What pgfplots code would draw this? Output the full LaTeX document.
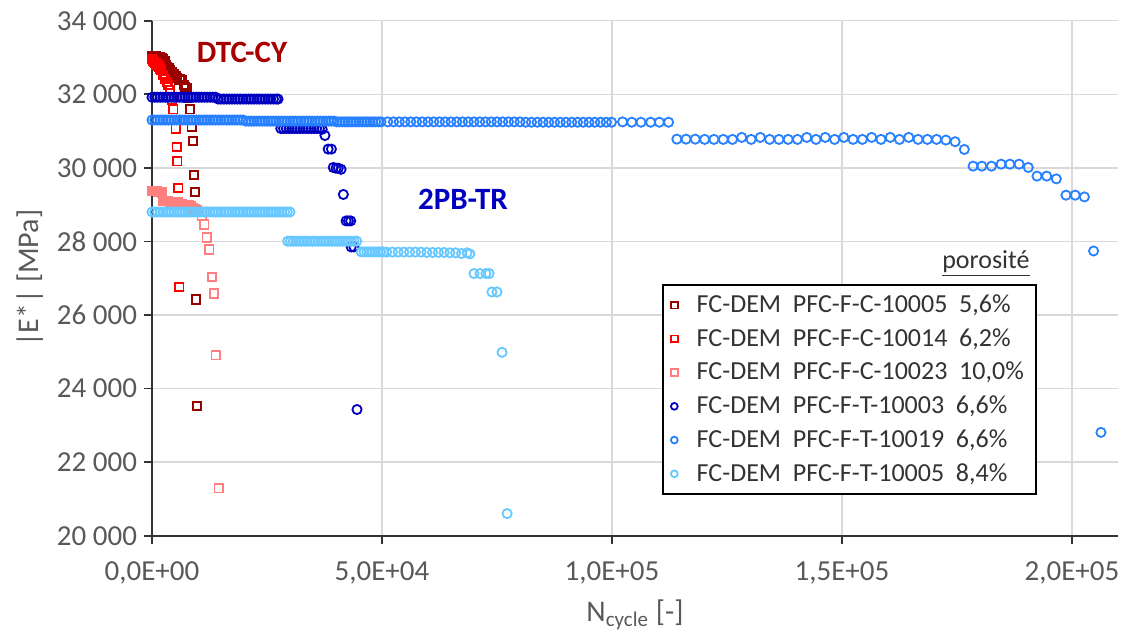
\documentclass[border=0pt]{standalone}
\usepackage{fontspec}
\setmainfont{Carlito}
\usepackage{pgfplots}
\pgfplotsset{compat=1.18}

\definecolor{cDR}{HTML}{990000}
\definecolor{cR}{HTML}{FF0000}
\definecolor{cPK}{HTML}{FF7F7F}
\definecolor{cDB}{HTML}{0000C0}
\definecolor{cB}{HTML}{2680FF}
\definecolor{cLB}{HTML}{66C8FF}
\definecolor{cTxt}{HTML}{595959}

\begin{document}
\begin{tikzpicture}
\begin{axis}[
  scale only axis, width=483pt, height=257.5pt,
  xmin=0, xmax=210000, ymin=20000, ymax=34000,
  clip=false,
  axis x line*=bottom, axis y line*=left,
  axis line style={-, line width=0.9pt, color=black!80},
  xtick={0,50000,100000,150000,200000},
  xticklabels={{0,0E+00},{5,0E+04},{1,0E+05},{1,5E+05},{2,0E+05}},
  ytick={20000,22000,24000,26000,28000,30000,32000,34000},
  yticklabels={20 000,22 000,24 000,26 000,28 000,30 000,32 000,34 000},
  scaled ticks=false,
  tick align=outside, major tick length=4pt,
  tick style={line width=0.9pt, color=black!80},
  grid=major, grid style={color=black!15, line width=0.7pt},
  tick label style={font=\fontsize{14.5}{16}\selectfont, color=cTxt},
  xticklabel style={yshift=-5.5pt},
  xlabel={N\textsubscript{cycle} [-]},
  ylabel={|E*| [MPa]},
  label style={font=\fontsize{15}{17}\selectfont, color=cTxt},
  xlabel style={yshift=-1pt},
  legend style={at={(rel axis cs:0.528,0.489)}, anchor=north west,
    draw=black, line width=0.9pt, font=\fontsize{13}{15}\selectfont,
    text=black!80, inner xsep=4pt, inner ysep=3pt, row sep=2.5pt,
    cells={anchor=west},
    /tikz/every odd column/.append style={column sep=7.5pt}},
  legend image post style={mark size=1.7pt, xshift=3pt},
  every axis plot/.append style={only marks, line width=0.9pt},
]

% ---------------- PFC-F-C-10005 ----------------
\addplot[mark=square, mark size=2.1pt, color=cDR] coordinates {
(0,33050)(300,33050)(600,33040)(900,33030)(1200,33020)(1500,33000)(1800,33000)
(2100,32980)(2400,32950)(2700,32900)(3000,32800)(3300,32750)(3600,32700)
(3900,32650)(4300,32610)(4700,32550)(5100,32500)(5500,32450)(6000,32400)
(6450,32380)(6900,32250)(7200,32200)(7540,32160)(7900,31900)(8260,31590)
(8630,31120)(8900,30735)(9130,29810)(9350,29340)(9570,26420)(9780,23525)};
\addlegendentry{FC-DEM\ \ PFC-F-C-10005\ \ 5,6\%}

% ---------------- PFC-F-C-10014 ----------------
\addplot[mark=square, mark size=2.1pt, color=cR] coordinates {
(0,32950)(250,32900)(500,32880)(750,32850)(1000,32800)(1250,32780)(1500,32750)
(1750,32700)(2000,32650)(2400,32520)(2800,32420)(3200,32330)(3550,32250)
(3900,32100)(4300,31850)(4630,31590)(4900,31300)(5150,31070)(5360,30570)
(5500,30180)(5720,29456)(5940,26760)};
\addlegendentry{FC-DEM\ \ PFC-F-C-10014\ \ 6,2\%}

% ---------------- PFC-F-C-10023 ----------------
\addplot[mark=square, mark size=2.1pt, color=cPK] coordinates {
(0,29370)(275,29370)(550,29370)(825,29360)(1100,29360)(1375,29350)(1650,29350)
(1925,29340)(2200,29330)(2500,29100)(2850,29100)(3200,29090)(3550,29090)
(3900,29080)(4250,29080)(4600,29080)(4950,29070)(5300,29070)(5600,29060)
(6000,29010)(6400,29010)(6800,29000)(7200,29000)(7600,28990)(8000,28980)
(8400,28960)(8800,28900)(9300,28880)(9800,28850)(10300,28800)(10800,28700)
(11350,28460)(11900,28106)(12460,27780)(13040,27034)(13480,26582)
(13850,24904)(14500,21290)};
\addlegendentry{FC-DEM\ \ PFC-F-C-10023\ \ 10,0\%}

% ---------------- PFC-F-T-10003 ----------------
\addplot[mark=o, mark size=2.3pt, color=cDB] coordinates {
(0,31920)(600,31920)(1200,31920)(1800,31920)(2400,31920)(3000,31920)(3600,31920)
(4200,31920)(4800,31920)(5400,31920)(6000,31920)(6600,31920)(7200,31920)
(7800,31920)(8400,31920)(9000,31920)(9600,31920)(10200,31920)(10800,31920)
(11400,31920)(12000,31920)(12600,31920)(13200,31920)(13800,31920)(14400,31870)
(15000,31870)(15600,31870)(16200,31870)(16800,31870)(17400,31870)(18000,31870)
(18600,31870)(19200,31870)(19800,31870)(20400,31870)(21000,31870)(21600,31870)
(22200,31870)(22800,31870)(23400,31870)(24000,31870)(24600,31870)(25200,31870)
(25800,31870)(26400,31870)(27000,31870)(27400,31870)
(28000,31070)(28600,31070)(29200,31070)(29800,31070)(30400,31070)(31000,31070)
(31600,31070)(32200,31070)(32800,31070)(33400,31070)(34000,31070)(34600,31070)
(35200,31070)(35800,31070)(36400,31070)(37000,31050)(37600,30880)
(38300,30510)(39000,30510)(39400,30010)(40000,29990)(40500,29990)(41100,29960)
(41600,29276)(42200,28558)(42700,28558)(43200,28558)(43300,27850)(43900,27850)
(44570,23430)};
\addlegendentry{FC-DEM\ \ PFC-F-T-10003\ \ 6,6\%}

% ---------------- PFC-F-T-10019 ----------------
\addplot[mark=o, mark size=2.3pt, color=cB] coordinates {
(0,31300)(600,31300)(1200,31300)(1800,31300)(2400,31300)(3000,31300)(3600,31300)
(4200,31300)(4800,31300)(5400,31300)(6000,31300)(6600,31300)(7200,31300)
(7800,31300)(8400,31300)(9000,31300)(9600,31300)(10200,31300)(10800,31300)
(11400,31300)(12000,31300)(12600,31300)(13200,31300)(13800,31300)(14400,31300)
(15000,31300)(15600,31300)(16200,31300)(16800,31300)(17400,31300)(18000,31300)
(18600,31300)(19200,31300)(19800,31300)(20400,31270)(21000,31270)(21600,31270)
(22200,31270)(22800,31270)(23400,31270)(24000,31270)(24600,31270)(25200,31270)
(25800,31270)(26400,31270)(27000,31270)(27600,31270)(28200,31270)(28800,31270)
(29400,31270)(30000,31270)(30600,31270)(31200,31270)(31800,31270)(32400,31270)
(33000,31270)(33600,31270)(34200,31270)(34800,31270)(35400,31270)(36000,31270)
(36600,31270)(37200,31270)(37800,31270)(38400,31270)(39000,31270)(39600,31270)
(40200,31250)(40800,31250)(41400,31250)(42000,31250)(42600,31250)(43200,31250)
(43800,31250)(44400,31250)(45000,31250)(45600,31250)(46200,31250)(46800,31250)
(47400,31250)(48000,31250)(48600,31250)(49200,31250)(49800,31250)
(51250,31250)(52500,31250)(53750,31250)(55000,31250)(56250,31250)(57500,31250)
(58750,31250)(60000,31250)(61250,31250)(62500,31250)(63750,31250)(65000,31250)
(66250,31250)(67500,31250)(68750,31250)(70000,31250)(71250,31250)(72500,31250)
(73750,31250)(75000,31250)(76250,31250)(77500,31250)(78750,31250)(80000,31250)
(81250,31240)(82500,31240)(83750,31240)(85000,31240)(86250,31240)(87500,31240)
(88750,31240)(90000,31240)(91250,31240)(92500,31240)(93750,31240)(95000,31240)
(96250,31240)(97500,31240)(98750,31240)
(99900,31240)(102300,31250)(104300,31240)(106300,31240)(108400,31240)
(110300,31240)(112300,31240)
(114100,30780)(116100,30780)(118100,30780)(120150,30773)(122170,30773)
(124200,30773)(126200,30773)(128200,30827)(130250,30773)(132250,30827)
(134270,30773)(136300,30773)(138300,30773)(140320,30773)(142340,30827)
(144350,30773)(146370,30827)(148400,30773)(150400,30827)(152420,30773)
(154440,30773)(156450,30827)(158470,30773)(160500,30827)(162500,30773)
(164520,30827)(166540,30773)(168560,30773)(170570,30773)(172590,30755)
(174600,30710)
(176600,30500)(178500,30046)(180400,30046)(182500,30046)(184600,30100)
(186500,30100)(188500,30100)(190500,30010)(192400,29775)(194500,29775)
(196600,29700)(198700,29257)(200700,29257)(202700,29210)(204700,27740)
(206300,22808)};
\addlegendentry{FC-DEM\ \ PFC-F-T-10019\ \ 6,6\%}

% ---------------- PFC-F-T-10005 ----------------
\addplot[mark=o, mark size=2.3pt, color=cLB] coordinates {
(0,28800)(600,28800)(1200,28800)(1800,28800)(2400,28800)(3000,28800)(3600,28800)
(4200,28800)(4800,28800)(5400,28800)(6000,28800)(6600,28800)(7200,28800)
(7800,28800)(8400,28800)(9000,28800)(9600,28800)(10200,28800)(10800,28800)
(11400,28800)(12000,28800)(12600,28800)(13200,28800)(13800,28800)(14400,28800)
(15000,28800)(15600,28800)(16200,28800)(16800,28800)(17400,28800)(18000,28800)
(18600,28800)(19200,28800)(19800,28800)(20400,28800)(21000,28800)(21600,28800)
(22200,28800)(22800,28800)(23400,28800)(24000,28800)(24600,28800)(25200,28800)
(25800,28800)(26400,28800)(27000,28800)(27600,28800)(28200,28800)(28800,28800)
(29400,28800)(30000,28800)
(29500,28006)(30100,28006)(30700,28006)(31300,28006)(31900,28006)(32500,28006)
(33100,28006)(33700,28006)(34300,28006)(34900,28006)(35500,28006)(36100,28006)
(36700,28006)(37300,28006)(37900,28006)(38500,28006)(39100,28006)(39700,28006)
(40300,28006)(40900,28006)(41500,28006)(42100,28006)(42700,28006)(43300,28006)
(43900,28006)(44500,28006)
(45500,27715)(46100,27715)(46700,27715)(47300,27715)(47900,27715)(48500,27715)
(49100,27715)(49700,27715)(50300,27715)(51000,27710)(52250,27710)(53500,27710)
(54750,27710)(56000,27710)(57250,27710)(58500,27710)(59750,27700)(61000,27700)
(62250,27700)(63500,27700)(64750,27690)(66000,27690)(67300,27670)(68500,27690)
(69100,27660)
(70000,27127)(71300,27127)(72600,27127)(73300,27127)(73900,26626)(75000,26626)
(76100,24985)(77200,20600)};
\addlegendentry{FC-DEM\ \ PFC-F-T-10005\ \ 8,4\%}

% ---------------- annotations ----------------
\node[font=\fontsize{15.5}{17}\selectfont\bfseries, text=cDR!85!red] at (axis cs:19570,33150) {DTC-CY};
\node[font=\fontsize{15.5}{17}\selectfont\bfseries, text=cDB] at (axis cs:67600,29140) {2PB-TR};
\node[font=\fontsize{13}{15}\selectfont, text=black!80] at (axis cs:181300,27407) {\underline{porosité}};

\coordinate (bbSW) at (axis cs:-33045,17312);
\coordinate (bbNE) at (axis cs:211313,34563);
\end{axis}
\pgfresetboundingbox
\path (bbSW) rectangle (bbNE);
\end{tikzpicture}
\end{document}
